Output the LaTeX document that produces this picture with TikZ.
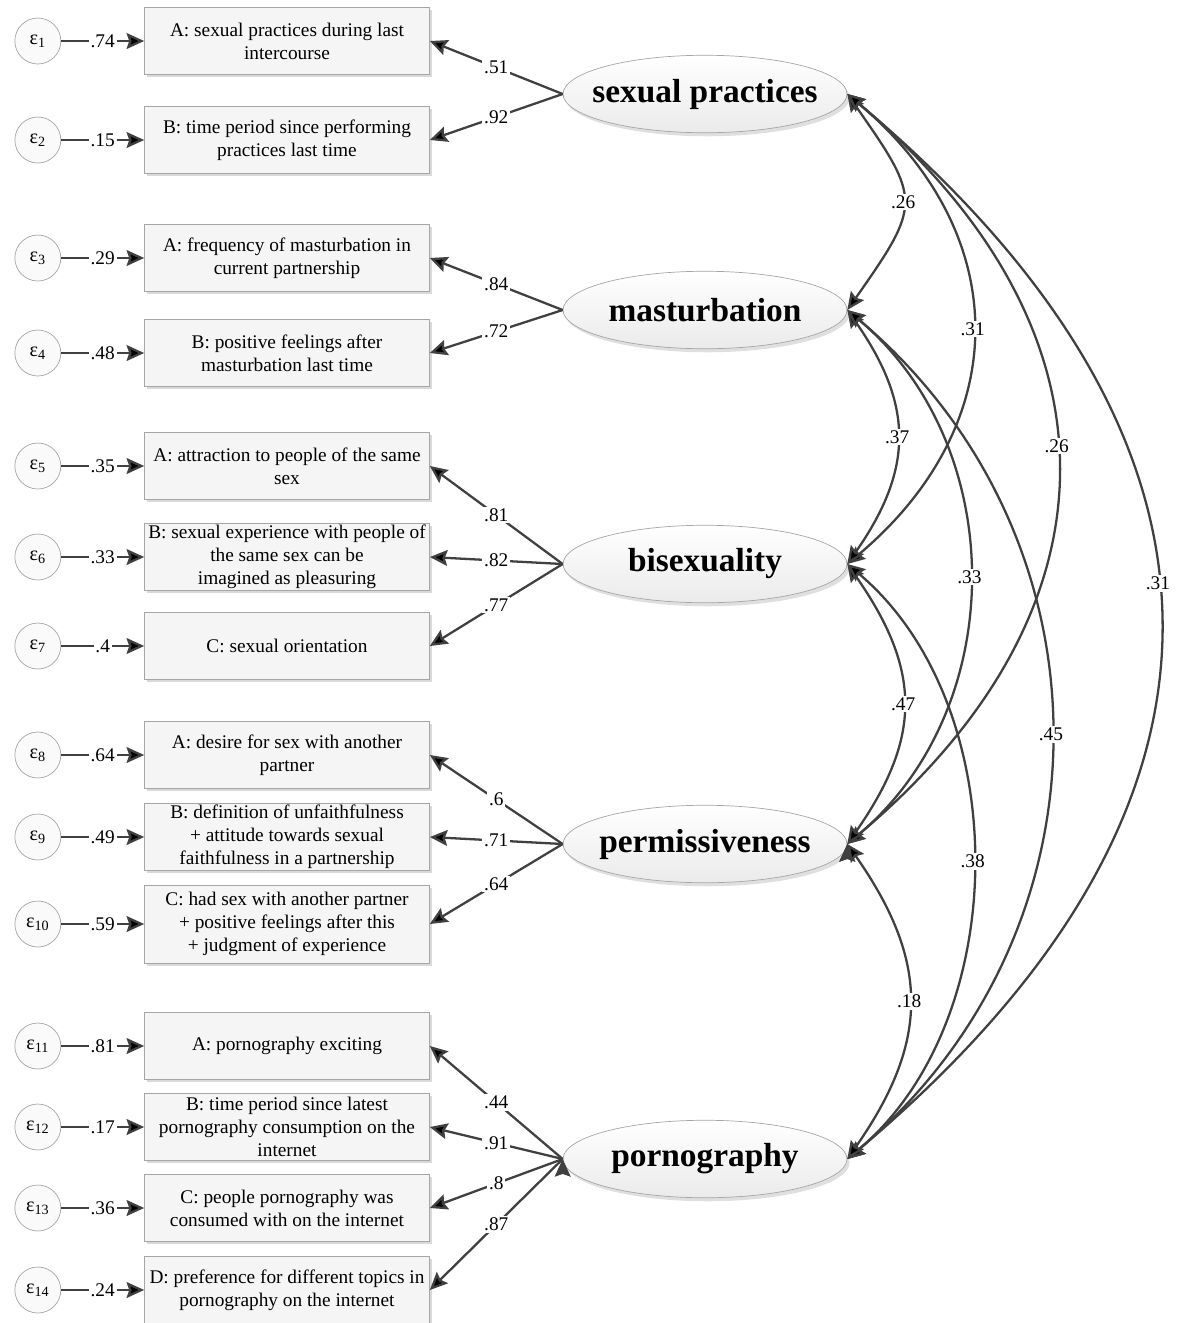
\documentclass[tikz,border=0pt]{standalone}
\usepackage{fontspec}
\setmainfont{Liberation Serif}
\usetikzlibrary{arrows.meta,positioning,shapes.geometric,shadows}
\definecolor{linegray}{HTML}{404040}
\tikzset{
    %Define standard arrow tip
    >={Stealth[length=10pt,width=9pt,inset=1.5pt]},
    %Define style for observed items
    indicator/.style={
           rectangle, draw=gray!70, fill=gray!8,
           minimum width=5.7cm, minimum height=1.34cm,
           inner xsep=2pt, inner ysep=0.5pt,
           align=center, font=\fontsize{11}{13}\selectfont,
           drop shadow={shadow xshift=1.5pt, shadow yshift=-1.5pt, opacity=.3}},
    %Define style for latent factors
    factor/.style={
           ellipse, draw=gray!70, top color=white, bottom color=gray!16,
           minimum width=5.68cm, minimum height=1.55cm,
           inner xsep=-9pt, inner ysep=0pt,
           font=\fontsize{19}{22}\selectfont\bfseries,
           drop shadow={shadow xshift=1.5pt, shadow yshift=-2pt, opacity=.25}},
    % Define arrow style
    pil/.style={
           ->,
           draw=linegray,
           line width=1.3pt},
    cov/.style={
           <->,
           draw=linegray,
           line width=1.3pt},
    coef/.style={
           fill=white, inner sep=1pt,
           font=\fontsize{11}{13}\selectfont}
}

\begin{document}
\begin{tikzpicture}[x=0.02cm, y=0.02cm, node distance=1.66cm]
	% Styles
	\tikzstyle{errc} = [circle, draw=gray!70, fill=gray!4, minimum size=0.92cm, inner sep=0pt, font=\fontsize{11.5}{13}\selectfont]

	\useasboundingbox (0,0) rectangle (1181,-1323);

	% Latent factors
	\node[factor] (sex)  at (705,-94)   {sexual practices};
	\node[factor] (mast) at (705,-310)  {masturbation};
	\node[factor] (bis)  at (705,-564)  {bisexuality};
	\node[factor] (perm) at (705,-844)  {permissiveness};
	\node[factor] (porn) at (705,-1159) {pornography};

	% Items
	\node[indicator] (s1) at (287,-41)   {A: sexual practices during last\\intercourse};
	\node[indicator] (s2) at (287,-140)  {B: time period since performing\\practices last time};
	\node[indicator] (m1) at (287,-258)  {A: frequency of masturbation in\\current partnership};
	\node[indicator] (m2) at (287,-353)  {B: positive feelings after\\masturbation last time};
	\node[indicator] (b1) at (287,-466)  {A: attraction to people of the same\\sex};
	\node[indicator] (b2) at (287,-557)  {B: sexual experience with people of\\the same sex can be\\imagined as pleasuring};
	\node[indicator] (b3) at (287,-646)  {C: sexual orientation};
	\node[indicator] (p1) at (287,-755)  {A: desire for sex with another\\partner};
	\node[indicator] (p2) at (287,-837)  {B: definition of unfaithfulness\\+ attitude towards sexual\\faithfulness in a partnership};
	\node[indicator, minimum height=1.56cm] (p3) at (287,-924) {C: had sex with another partner\\+ positive feelings after this\\+ judgment of experience};
	\node[indicator] (g1) at (287,-1046) {A: pornography exciting};
	\node[indicator] (g2) at (287,-1127) {B: time period since latest\\pornography consumption on the\\internet};
	\node[indicator] (g3) at (287,-1208) {C: people pornography was\\consumed with on the internet};
	\node[indicator] (g4) at (287,-1290) {D: preference for different topics in\\pornography on the internet};

	% Error terms
	\node[errc, left=of s1] (e1)  {ε\textsubscript{1}};
	\node[errc, left=of s2] (e2)  {ε\textsubscript{2}};
	\node[errc, left=of m1] (e3)  {ε\textsubscript{3}};
	\node[errc, left=of m2] (e4)  {ε\textsubscript{4}};
	\node[errc, left=of b1] (e5)  {ε\textsubscript{5}};
	\node[errc, left=of b2] (e6)  {ε\textsubscript{6}};
	\node[errc, left=of b3] (e7)  {ε\textsubscript{7}};
	\node[errc, left=of p1] (e8)  {ε\textsubscript{8}};
	\node[errc, left=of p2] (e9)  {ε\textsubscript{9}};
	\node[errc, left=of p3] (e10) {ε\textsubscript{10}};
	\node[errc, left=of g1] (e11) {ε\textsubscript{11}};
	\node[errc, left=of g2] (e12) {ε\textsubscript{12}};
	\node[errc, left=of g3] (e13) {ε\textsubscript{13}};
	\node[errc, left=of g4] (e14) {ε\textsubscript{14}};

	\path[pil] (e1)  edge node[coef] {.74} (s1)
	           (e2)  edge node[coef] {.15} (s2)
	           (e3)  edge node[coef] {.29} (m1)
	           (e4)  edge node[coef] {.48} (m2)
	           (e5)  edge node[coef] {.35} (b1)
	           (e6)  edge node[coef] {.33} (b2)
	           (e7)  edge node[coef] {.4}  (b3)
	           (e8)  edge node[coef] {.64} (p1)
	           (e9)  edge node[coef] {.49} (p2)
	           (e10) edge node[coef] {.59} (p3)
	           (e11) edge node[coef] {.81} (g1)
	           (e12) edge node[coef] {.17} (g2)
	           (e13) edge node[coef] {.36} (g3)
	           (e14) edge node[coef] {.24} (g4);

	% Loadings
	\path[pil] (sex.west)  edge node[coef] {.51} (s1.east)
	           (sex.west)  edge node[coef] {.92} (s2.east)
	           (mast.west) edge node[coef] {.84} (m1.east)
	           (mast.west) edge node[coef] {.72} (m2.east)
	           (bis.west)  edge node[coef] {.81} (b1.east)
	           (bis.west)  edge node[coef] {.82} (b2.east)
	           (bis.west)  edge node[coef] {.77} (b3.east)
	           (perm.west) edge node[coef] {.6}  (p1.east)
	           (perm.west) edge node[coef] {.71} (p2.east)
	           (perm.west) edge node[coef] {.64} (p3.east)
	           (porn.west) edge node[coef] {.44} (g1.east)
	           (porn.west) edge node[coef] {.91} (g2.east)
	           (porn.west) edge node[coef] {.8}  (g3.east)
	           (porn.west) edge node[coef] {.87} (g4.east);

	% Correlations
	\path[cov] (sex.east)  edge[out=-55, in=55, looseness=1.54] node[coef] {.26} (mast.east)
	           (sex.east)  edge[out=-40, in=40, looseness=1.19] node[coef] {.31} (bis.east)
	           (sex.east)  edge[out=-40, in=40, looseness=1.25] node[coef, pos=.47] {.26} (perm.east)
	           (sex.east)  edge[out=-40, in=40, looseness=1.31] node[coef, pos=.46] {.31} (porn.east)
	           (mast.east) edge[out=-55, in=55, looseness=1.17] node[coef] {.37} (bis.east)
	           (mast.east) edge[out=-40, in=40, looseness=1.02] node[coef] {.33} (perm.east)
	           (mast.east) edge[out=-40, in=40, looseness=1.07] node[coef] {.45} (porn.east)
	           (bis.east)  edge[out=-55, in=55, looseness=1.19] node[coef] {.47} (perm.east)
	           (bis.east)  edge[out=-40, in=40, looseness=0.94] node[coef] {.38} (porn.east)
	           (perm.east) edge[out=-55, in=55, looseness=1.17] node[coef] {.18} (porn.east);
\end{tikzpicture}
\end{document}
